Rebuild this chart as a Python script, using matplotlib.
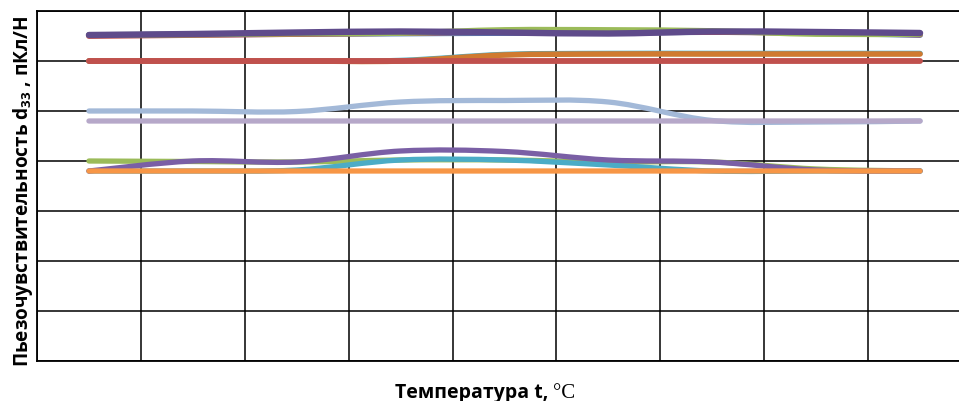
"""
Пьезочувствительность d33 vs температура - reproduction
"""
import numpy as np
import matplotlib
matplotlib.use('Agg')
import matplotlib.pyplot as plt
from matplotlib.path import Path
from matplotlib.patches import PathPatch

plt.rcParams['font.family'] = ['Open Sans', 'DejaVu Sans']
plt.rcParams['mathtext.fontset'] = 'custom'
plt.rcParams['mathtext.rm'] = 'Open Sans:bold'
plt.rcParams['mathtext.it'] = 'Open Sans:bold'
plt.rcParams['mathtext.bf'] = 'Open Sans:bold'

# category positions (9 temperature points, centred in grid cells)
x_pos = [0.5, 1.5, 2.5, 3.5, 4.5, 5.5, 6.5, 7.5, 8.5]

# upper group (~6.5)
blue_top   = [6.52, 6.53, 6.54, 6.55, 6.56, 6.56, 6.58, 6.56, 6.52]
red_top    = [6.50, 6.52, 6.54, 6.56, 6.58, 6.57, 6.58, 6.56, 6.53]
green_top  = [6.52, 6.53, 6.55, 6.56, 6.62, 6.62, 6.60, 6.54, 6.54]
purple_top = [6.52, 6.54, 6.57, 6.59, 6.57, 6.55, 6.59, 6.58, 6.56]

# second group (~6.0)
teal_mid   = [6.00, 6.00, 6.00, 6.01, 6.13, 6.15, 6.15, 6.15, 6.15]
orange_mid = [6.00, 6.00, 6.00, 6.00, 6.12, 6.14, 6.14, 6.14, 6.14]
red_mid    = [6.00, 6.00, 6.00, 6.00, 6.00, 6.00, 6.00, 6.00, 6.00]

# third group (~5.0 / 4.8)
lightblue  = [5.00, 5.00, 4.99, 5.18, 5.21, 5.18, 4.81, 4.78, 4.80]
lavender   = [4.80, 4.80, 4.80, 4.80, 4.80, 4.80, 4.80, 4.80, 4.80]

# lower group (~4.0 / 3.8)
green_low  = [4.00, 3.99, 3.98, 4.02, 4.02, 3.98, 3.98, 3.84, 3.80]
teal_low   = [3.80, 3.80, 3.82, 4.02, 4.02, 3.92, 3.80, 3.80, 3.80]
purple_low = [3.80, 4.00, 3.98, 4.20, 4.19, 4.02, 3.98, 3.82, 3.80]
orange_low = [3.80, 3.80, 3.80, 3.80, 3.80, 3.80, 3.80, 3.80, 3.80]

series = [
    (blue_top,   '#4f81bd', 4.2),
    (red_top,    '#c0504d', 4.2),
    (green_top,  '#9bbb59', 4.2),
    (purple_top, '#5f4b8b', 4.6),
    (teal_mid,   '#4bacc6', 4.0),
    (orange_mid, '#d07a30', 4.0),
    (red_mid,    '#c0504d', 4.2),
    (lightblue,  '#a3b9d8', 3.8),
    (lavender,   '#b6a8c9', 3.8),
    (green_low,  '#9bbb59', 3.8),
    (teal_low,   '#4bacc6', 3.8),
    (purple_low, '#7a5fa5', 3.8),
    (orange_low, '#f79646', 3.8),
]


def smooth_path(xs, ys):
    # Excel-style smoothed line: Catmull-Rom through the points as cubic Beziers
    pts = np.column_stack([xs, ys])
    ext = np.vstack([pts[0], pts, pts[-1]])
    verts = [pts[0]]
    codes = [Path.MOVETO]
    for i in range(len(pts) - 1):
        p0, p1, p2, p3 = ext[i], ext[i + 1], ext[i + 2], ext[i + 3]
        verts += [p1 + (p2 - p0) / 6, p2 - (p3 - p1) / 6, p2]
        codes += [Path.CURVE4] * 3
    return Path(verts, codes)


fig = plt.figure(figsize=(9.59, 4.02), dpi=100)
ax = fig.add_axes([37 / 959, 40 / 402, 935 / 959, 350 / 402])

for ys, col, lw in series:
    ax.add_patch(PathPatch(smooth_path(x_pos, ys), facecolor='none', edgecolor=col,
                           linewidth=lw, capstyle='round', joinstyle='round', zorder=3))

ax.set_xlim(0, 9)
ax.set_ylim(0, 7)
ax.set_xticks(range(10))
ax.set_yticks(range(8))
ax.tick_params(length=0, labelbottom=False, labelleft=False)
ax.grid(True, color='black', linewidth=1.1)
ax.set_axisbelow(True)
for spine in ax.spines.values():
    spine.set_color('black')
    spine.set_linewidth(1.3)

fig.text(23 / 959, 211 / 402, 'Пьезочувствительность d$_{33}$ , пКл/Н',
         rotation=90, ha='center', va='center', fontsize=13.7, fontweight='bold')

t1 = fig.text(395 / 959, 4 / 402, 'Температура t, ', ha='left', va='baseline',
              fontsize=14, fontweight='bold')
fig.add_artist(matplotlib.text.Annotation('°C', xy=(1, 4 / 402), xycoords=(t1, 'figure fraction'),
                                          ha='left', va='baseline', fontsize=15,
                                          family='Liberation Serif'))

fig.savefig('out.png', dpi=100, facecolor='white')
